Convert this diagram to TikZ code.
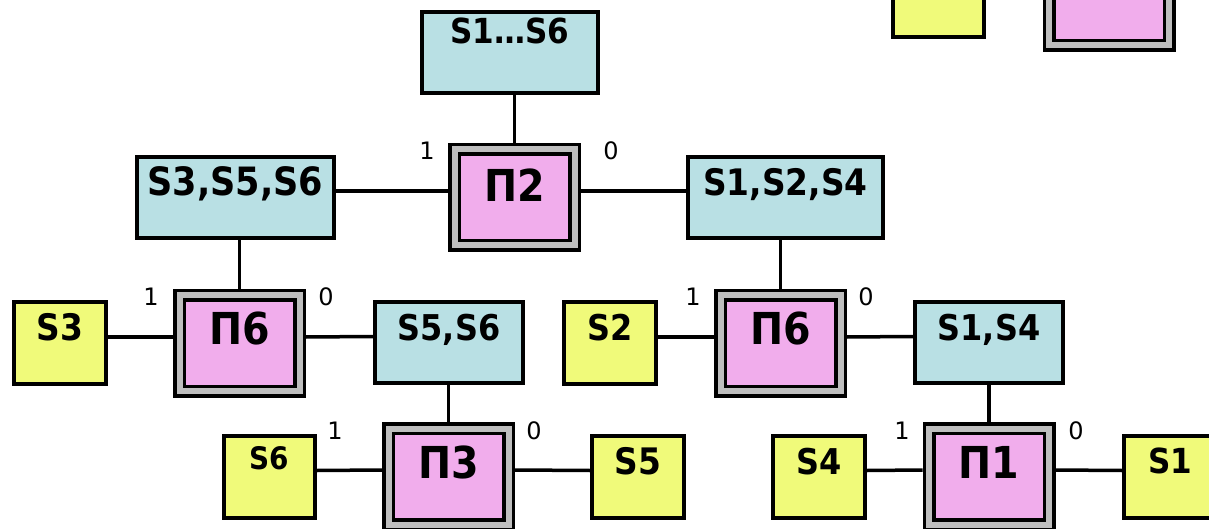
\documentclass[tikz,border=0pt]{standalone}
\usepackage{fontspec}
\setmainfont{DejaVu Sans}
\newfontfamily\boxfont{DejaVu Sans Condensed}
\definecolor{setcyan}{RGB}{185,224,228}
\definecolor{leafyellow}{RGB}{240,250,122}
\definecolor{testpink}{RGB}{241,173,236}
\definecolor{framegray}{RGB}{190,190,190}
\tikzset{
  setbox/.style={draw, line width=4pt, fill=setcyan, inner sep=0pt, font=\boxfont\bfseries},
  leafbox/.style={draw, line width=4pt, fill=leafyellow, inner sep=0pt, font=\boxfont\bfseries},
  testbox/.style={draw, line width=3.5pt, fill=framegray, inner sep=0pt,
    minimum width=129.5pt, text depth=51.25pt, text height=54.25pt,
    font=\boxfont\fontsize{44}{44}\bfseries\selectfont,
    path picture={\draw[line width=3.5pt, fill=testpink]
      ([shift={(9.5pt,9.5pt)}]path picture bounding box.south west) rectangle
      ([shift={(-9.5pt,-9.5pt)}]path picture bounding box.north east);}},
  branch/.style={font=\fontsize{24}{24}\selectfont, inner sep=0pt},
  edge/.style={line width=3.5pt},
}
\newcommand{\fs}[1]{\fontsize{#1}{#1}\selectfont}
\begin{document}
\begin{tikzpicture}[x=1pt,y=-1pt]
\useasboundingbox (0,0) rectangle (1209,529);

% set boxes
\node[setbox, minimum width=176pt, text height=32pt, text depth=49pt] (all) at (510,52.5) {\fs{34.5}S1…S6};
\node[setbox, minimum width=197pt, text height=39pt, text depth=42pt] (s356) at (235.5,197.5) {\fs{39}S3,S5,S6};
\node[setbox, minimum width=195pt, text height=39pt, text depth=42pt] (s124) at (785.5,197.5) {\fs{36.5}S1,S2,S4};
\node[setbox, minimum width=148pt, text height=38pt, text depth=43pt] (s56) at (449,342.5) {\fs{35.5}S5,S6};
\node[setbox, minimum width=148pt, text height=38pt, text depth=43pt] (s14) at (989,342.5) {\fs{35.5}S1,S4};

% test nodes
\node[testbox, text height=57.25pt, text depth=48.25pt] (p2) at (514.5,197.5) {П2};
\node[testbox] (p6a) at (239.5,343) {П6};
\node[testbox] (p6b) at (780.5,343) {П6};
\node[testbox] (p3) at (448.5,476.5) {П3};
\node[testbox] (p1) at (989,476.5) {П1};
\node[testbox] (ptr) at (1109,-2.5) {};

% leaves
\node[leafbox, minimum width=92pt, text height=38pt, text depth=44pt] (l3) at (60,343) {\fs{36.5}S3};
\node[leafbox, minimum width=92pt, text height=38pt, text depth=44pt] (l2) at (610,343) {\fs{35.5}S2};
\node[leafbox, minimum width=91pt, text height=33pt, text depth=49pt] (l6) at (269.5,477) {\fs{31}S6};
\node[leafbox, minimum width=92pt, text height=38pt, text depth=44pt] (l5) at (638,477) {\fs{36.5}S5};
\node[leafbox, minimum width=92pt, text height=38pt, text depth=44pt] (l4) at (819,477) {\fs{35.5}S4};
\node[leafbox, minimum width=92pt, text height=37pt, text depth=45pt] (l1) at (1170,477) {\fs{34.5}S1};
\node[leafbox, minimum width=91pt, text height=0pt, text depth=82pt] (ltr) at (938.5,-4) {};

% vertical connectors
\draw[edge] (p2.north |- all.south) -- (p2.north);
\draw[edge] (p6a.north |- s356.south) -- (p6a.north);
\draw[edge] (p6b.north |- s124.south) -- (p6b.north);
\draw[edge] (p3.north |- s56.south) -- (p3.north);
\draw[edge] (p1.north |- s14.south) -- (p1.north);

% horizontal connectors
\draw[edge] ([yshift=6.5pt]s356.east) -- ([yshift=6.5pt]p2.west);
\draw[edge] ([yshift=6.5pt]p2.east) -- ([yshift=6.5pt]s124.west);
\draw[edge] ([yshift=6pt]l3.east) -- ([yshift=6pt]p6a.west);
\draw[edge] ([yshift=6pt]p6a.east) -- ([yshift=6pt]s56.west);
\draw[edge] ([yshift=6pt]l2.east) -- ([yshift=6pt]p6b.west);
\draw[edge] ([yshift=6pt]p6b.east) -- ([yshift=6pt]s14.west);
\draw[edge] ([yshift=6.5pt]l6.east) -- ([yshift=6.5pt]p3.west);
\draw[edge] ([yshift=6.5pt]p3.east) -- ([yshift=6.5pt]l5.west);
\draw[edge] ([yshift=6.5pt]l4.east) -- ([yshift=6.5pt]p1.west);
\draw[edge] ([yshift=6.5pt]p1.east) -- ([yshift=6.5pt]l1.west);

% branch labels
\node[branch] (b2one) at (427,151) {1};
\node[branch] (b2zero) at (611,151) {0};
\node[branch] (b6aone) at (151,297) {1};
\node[branch] (b6azero) at (326,297) {0};
\node[branch] (b6bone) at (693,297) {1};
\node[branch] (b6bzero) at (866,297) {0};
\node[branch] (b3one) at (335,431) {1};
\node[branch] (b3zero) at (534,431) {0};
\node[branch] (b1one) at (902,431) {1};
\node[branch] (b1zero) at (1076,431) {0};
\end{tikzpicture}
\end{document}
